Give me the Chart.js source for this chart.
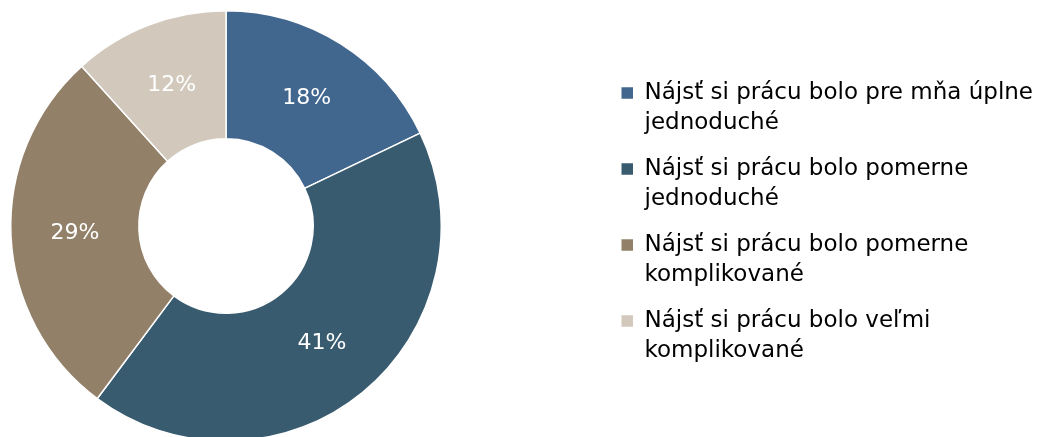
<!DOCTYPE html>
<html>
<head>
<meta charset="utf-8">
<script src="https://cdn.jsdelivr.net/npm/chart.js@4.4.1/dist/chart.umd.min.js"></script>
<style>
  html, body { margin: 0; padding: 0; background: #ffffff; overflow: hidden; }
  #wrap { position: relative; width: 1043px; height: 442px; }
</style>
</head>
<body>
<div id="wrap"><canvas id="c"></canvas></div>
<script>
// ---- data ----
const categories = [
  'Nájsť si prácu bolo pre mňa úplne jednoduché',
  'Nájsť si prácu bolo pomerne jednoduché',
  'Nájsť si prácu bolo pomerne komplikované',
  'Nájsť si prácu bolo veľmi komplikované'
];
const shares = [17.9, 42.3, 28.1, 11.7];           // slice sizes as drawn
const shareLabels = ['18%', '41%', '29%', '12%'];  // printed data labels
const sliceColors = ['#42678F', '#385B6F', '#928069', '#D2C9BC'];

const FONT_FAMILY = '"DejaVu Sans", sans-serif';
const LEGEND_FONT = { family: FONT_FAMILY, size: 23, lineHeight: 1.326 };
const LABEL_FONT_PX = 22;
const WRAP_LIMIT = 410;
const PAD = { left: 10, right: 0, top: 10, bottom: 0 };

function wrapText(text, font) {
  const c = document.createElement('canvas').getContext('2d');
  c.font = font;
  const words = text.split(' ');
  const lines = [];
  let cur = '';
  for (const w of words) {
    const test = cur ? cur + ' ' + w : w;
    if (cur && c.measureText(test).width > WRAP_LIMIT) { lines.push(cur); cur = w; }
    else cur = test;
  }
  if (cur) lines.push(cur);
  return lines;
}

// invisible layout box between the chart area and the legend,
// sized so that the chart area stays square
const spacerPlugin = {
  id: 'spacer',
  beforeInit(chart) {
    const box = {
      position: 'right', weight: 0, fullSize: false,
      options: { stackWeight: 1 },
      width: 0, height: 0, left: 0, top: 0, right: 0, bottom: 0,
      isHorizontal() { return false; },
      update(maxWidth, maxHeight) {
        const lw = chart.legend ? chart.legend.width : 0;
        const side = chart.height - PAD.top - PAD.bottom;
        this.width = Math.max(0, chart.width - PAD.left - PAD.right - lw - side);
        this.height = maxHeight;
        return this.width;
      },
      draw() {}
    };
    Chart.layouts.addBox(chart, box);
  }
};

const dataLabelPlugin = {
  id: 'dataLabels',
  afterDatasetsDraw(chart) {
    const ctx = chart.ctx;
    const meta = chart.getDatasetMeta(0);
    ctx.save();
    ctx.fillStyle = '#ffffff';
    ctx.font = LABEL_FONT_PX + 'px ' + FONT_FAMILY;
    ctx.textAlign = 'center';
    ctx.textBaseline = 'middle';
    meta.data.forEach((arc, i) => {
      const p = arc.tooltipPosition();
      ctx.fillText(shareLabels[i], p.x, p.y);
    });
    ctx.restore();
  }
};

new Chart(document.getElementById('c'), {
  type: 'doughnut',
  data: {
    labels: categories,
    datasets: [{
      data: shares,
      backgroundColor: sliceColors,
      borderColor: '#ffffff',
      borderWidth: 1.5,
      hoverOffset: 0
    }]
  },
  options: {
    responsive: true,
    maintainAspectRatio: false,
    animation: false,
    cutout: '40.5%',
    layout: { padding: PAD },
    plugins: {
      tooltip: { enabled: false },
      legend: {
        position: 'right',
        align: 'center',
        maxWidth: 600,
        labels: {
          color: '#000000',
          font: LEGEND_FONT,
          boxWidth: 11.5,
          boxHeight: 11.5,
          padding: 15,
          generateLabels(chart) {
            const fontStr = LEGEND_FONT.size + 'px ' + FONT_FAMILY;
            return categories.map((cat, i) => ({
              text: wrapText(cat, fontStr),
              fillStyle: sliceColors[i],
              strokeStyle: sliceColors[i],
              lineWidth: 0,
              hidden: false,
              index: i,
              datasetIndex: 0
            }));
          }
        }
      }
    }
  },
  plugins: [spacerPlugin, dataLabelPlugin]
});
</script>
</body>
</html>
